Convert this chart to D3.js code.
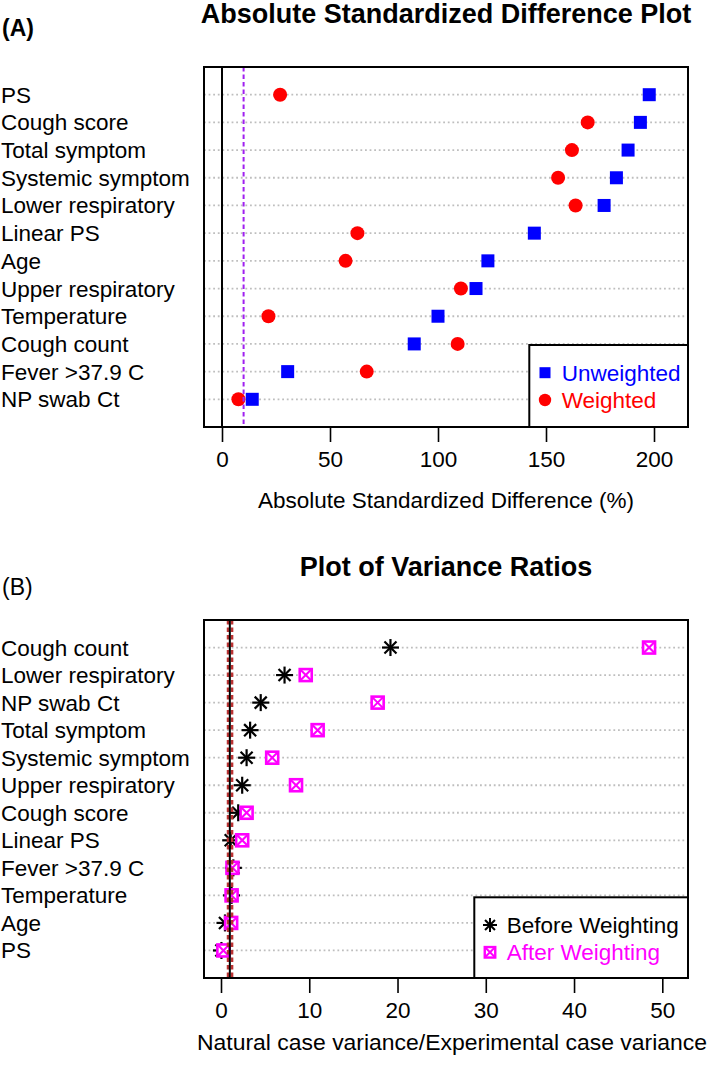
<!DOCTYPE html>
<html>
<head>
<meta charset="utf-8">
<script src="https://cdn.jsdelivr.net/npm/d3@7/dist/d3.min.js"></script>
<style>
  html, body { margin: 0; padding: 0; background: #fff; }
  svg { display: block; font-family: "Liberation Sans", Arial, Helvetica, sans-serif; }
</style>
</head>
<body>
<svg id="chart" width="709" height="1067"></svg>
<script>
// ---------- Panel A data ----------
const catsA = ["PS", "Cough score", "Total symptom", "Systemic symptom", "Lower respiratory",
  "Linear PS", "Age", "Upper respiratory", "Temperature", "Cough count", "Fever >37.9 C", "NP swab Ct"];
const unweightedA = [197.8, 193.7, 188.0, 182.6, 176.9, 144.6, 123.1, 117.6, 100.0, 89.0, 30.4, 14.0];
const weightedA   = [26.9, 169.3, 162.0, 155.6, 163.7, 62.7, 57.2, 110.6, 21.5, 109.1, 67.0, 7.6];
const ticksA = [0, 50, 100, 150, 200];
const refSolidA = 0;
const refDashA = 10;

// ---------- Panel B data ----------
const catsB = ["Cough count", "Lower respiratory", "NP swab Ct", "Total symptom", "Systemic symptom",
  "Upper respiratory", "Cough score", "Linear PS", "Fever >37.9 C", "Temperature", "Age", "PS"];
const beforeB = [19.2, 7.2, 4.5, 3.3, 2.9, 2.4, 1.95, 1.1, 1.4, 1.2, 0.45, 0.05];
const afterB  = [48.5, 9.6, 17.75, 10.95, 5.8, 8.5, 2.9, 2.4, 1.3, 1.2, 1.15, 0.27];
const ticksB = [0, 10, 20, 30, 40, 50];
const refSolidB = 1;
const refDashB = [0.8, 1.25];

const svg = d3.select("#chart");
const FS = 22.5;
const boxL = 204, boxR = 688;

function star(g, cx, cy, r, sw) {
  [0, 45, 90, 135].forEach(a => {
    const rad = a * Math.PI / 180;
    g.append("line")
      .attr("x1", cx - r * Math.cos(rad)).attr("y1", cy - r * Math.sin(rad))
      .attr("x2", cx + r * Math.cos(rad)).attr("y2", cy + r * Math.sin(rad))
      .attr("stroke", "#000").attr("stroke-width", sw);
  });
}
function boxX(g, cx, cy, s, sw) {
  const h = s / 2;
  g.append("rect").attr("x", cx - h).attr("y", cy - h).attr("width", s).attr("height", s)
    .attr("fill", "#fff").attr("stroke", "#FF00FF").attr("stroke-width", sw);
  g.append("line").attr("x1", cx - h).attr("y1", cy - h).attr("x2", cx + h).attr("y2", cy + h)
    .attr("stroke", "#FF00FF").attr("stroke-width", sw * 0.8);
  g.append("line").attr("x1", cx - h).attr("y1", cy + h).attr("x2", cx + h).attr("y2", cy - h)
    .attr("stroke", "#FF00FF").attr("stroke-width", sw * 0.8);
}

function panel(opt) {
  const g = svg.append("g");
  const x = d3.scaleLinear().domain(opt.xDomain).range(opt.xRange);
  const y = d3.scalePoint().domain(opt.cats).range([opt.top, opt.bottom]).padding(1);

  // title & tag
  g.append("text").attr("x", 446).attr("y", opt.titleY).attr("text-anchor", "middle")
    .attr("font-size", 27).attr("font-weight", "bold").text(opt.title);
  g.append("text").attr("x", 2).attr("y", opt.tagY)
    .attr("font-size", 23).attr("font-weight", opt.tagBold ? "bold" : "normal").text(opt.tag);

  // category labels
  g.selectAll("text.cat").data(opt.cats).join("text").attr("class", "cat")
    .attr("x", 1).attr("y", d => y(d) + 8).attr("font-size", FS).text(d => d);

  // dotted grid
  g.selectAll("line.grid").data(opt.cats).join("line").attr("class", "grid")
    .attr("x1", boxL).attr("x2", boxR).attr("y1", d => y(d)).attr("y2", d => y(d))
    .attr("stroke", "#BEBEBE").attr("stroke-width", 1.8).attr("stroke-dasharray", "1.8 2.8");

  opt.drawPoints(g, x, y);

  // reference lines
  opt.refLines(g, x);

  // box
  g.append("rect").attr("x", boxL).attr("y", opt.top).attr("width", boxR - boxL).attr("height", opt.bottom - opt.top)
    .attr("fill", "none").attr("stroke", "#000").attr("stroke-width", 2);

  // axis
  const ax = g.append("g").attr("transform", `translate(0,${opt.bottom})`)
    .call(d3.axisBottom(x).tickValues(opt.ticks).tickSize(15).tickPadding(9.4).tickFormat(d3.format("d")));
  ax.select(".domain").remove();
  ax.selectAll(".tick line").attr("stroke", "#000").attr("stroke-width", 1.6);
  ax.selectAll(".tick text").attr("font-size", FS).attr("fill", "#000")
    .attr("font-family", "\"Liberation Sans\", Arial, Helvetica, sans-serif");

  // axis title
  const at = g.append("text").attr("x", opt.xtitleX).attr("y", opt.xtitleY).attr("text-anchor", opt.xtitleAnchor || "middle")
    .attr("font-size", FS).text(opt.xtitle);
  if (opt.xtitleLen) at.attr("textLength", opt.xtitleLen).attr("lengthAdjust", "spacingAndGlyphs");

  // legend
  opt.legend(g);
}

// Panel A
panel({
  cats: catsA, top: 67, bottom: 427, xDomain: [0, 200], xRange: [222, 654], ticks: ticksA,
  title: "Absolute Standardized Difference Plot", titleY: 23, tag: "(A)", tagY: 36, tagBold: true,
  xtitle: "Absolute Standardized Difference (%)", xtitleX: 446, xtitleY: 508,
  drawPoints(g, x, y) {
    g.selectAll("rect.unw").data(catsA).join("rect").attr("class", "unw")
      .attr("x", (d, i) => x(unweightedA[i]) - 6.5).attr("y", d => y(d) - 6.5)
      .attr("width", 13).attr("height", 13).attr("fill", "#0000FF");
    g.selectAll("circle.w").data(catsA).join("circle").attr("class", "w")
      .attr("cx", (d, i) => x(weightedA[i])).attr("cy", d => y(d)).attr("r", 7).attr("fill", "#FF0000");
  },
  refLines(g, x) {
    g.append("line").attr("x1", x(refSolidA)).attr("x2", x(refSolidA)).attr("y1", 67).attr("y2", 427)
      .attr("stroke", "#000").attr("stroke-width", 2);
    g.append("line").attr("x1", x(refDashA)).attr("x2", x(refDashA)).attr("y1", 67).attr("y2", 427)
      .attr("stroke", "#A020F0").attr("stroke-width", 2).attr("stroke-dasharray", "4.5 3");
  },
  legend(g) {
    g.append("rect").attr("x", 529.3).attr("y", 345).attr("width", boxR - 529.3).attr("height", 82)
      .attr("fill", "#fff").attr("stroke", "#000").attr("stroke-width", 2);
    g.append("rect").attr("x", 545 - 5.5).attr("y", 372.7 - 5.5).attr("width", 11).attr("height", 11).attr("fill", "#0000FF");
    g.append("circle").attr("cx", 545).attr("cy", 400).attr("r", 6.2).attr("fill", "#FF0000");
    g.append("text").attr("x", 561.7).attr("y", 380.7).attr("font-size", FS).attr("fill", "#0000FF").text("Unweighted");
    g.append("text").attr("x", 561.7).attr("y", 408).attr("font-size", FS).attr("fill", "#FF0000").text("Weighted");
  }
});

// Panel B
panel({
  cats: catsB, top: 620, bottom: 978, xDomain: [0, 50], xRange: [221, 662.3], ticks: ticksB,
  title: "Plot of Variance Ratios", titleY: 576, tag: "(B)", tagY: 595, tagBold: false,
  xtitle: "Natural case variance/Experimental case variance", xtitleX: 197, xtitleY: 1050,
  xtitleAnchor: "start", xtitleLen: 510,
  drawPoints(g, x, y) {
    catsB.forEach((c, i) => star(g, x(beforeB[i]), y(c), 8.5, 2.2));
    catsB.forEach((c, i) => boxX(g, x(afterB[i]), y(c), 12, 2.6));
  },
  refLines(g, x) {
    refDashB.forEach(v => {
      g.append("line").attr("x1", x(v)).attr("x2", x(v)).attr("y1", 620).attr("y2", 978)
        .attr("stroke", "#BB3333").attr("stroke-width", 2.6).attr("stroke-dasharray", "4.5 3");
    });
    g.append("line").attr("x1", x(refSolidB)).attr("x2", x(refSolidB)).attr("y1", 620).attr("y2", 978)
      .attr("stroke", "#000").attr("stroke-width", 2);
  },
  legend(g) {
    g.append("rect").attr("x", 474.3).attr("y", 897.3).attr("width", boxR - 474.3).attr("height", 978 - 897.3)
      .attr("fill", "#fff").attr("stroke", "#000").attr("stroke-width", 2);
    star(g, 490, 925, 7, 2);
    boxX(g, 490, 952.3, 10.5, 2.4);
    g.append("text").attr("x", 506.7).attr("y", 933).attr("font-size", FS).attr("fill", "#000").text("Before Weighting");
    g.append("text").attr("x", 506.7).attr("y", 960.3).attr("font-size", FS).attr("fill", "#FF00FF").text("After Weighting");
  }
});
</script>
</body>
</html>
